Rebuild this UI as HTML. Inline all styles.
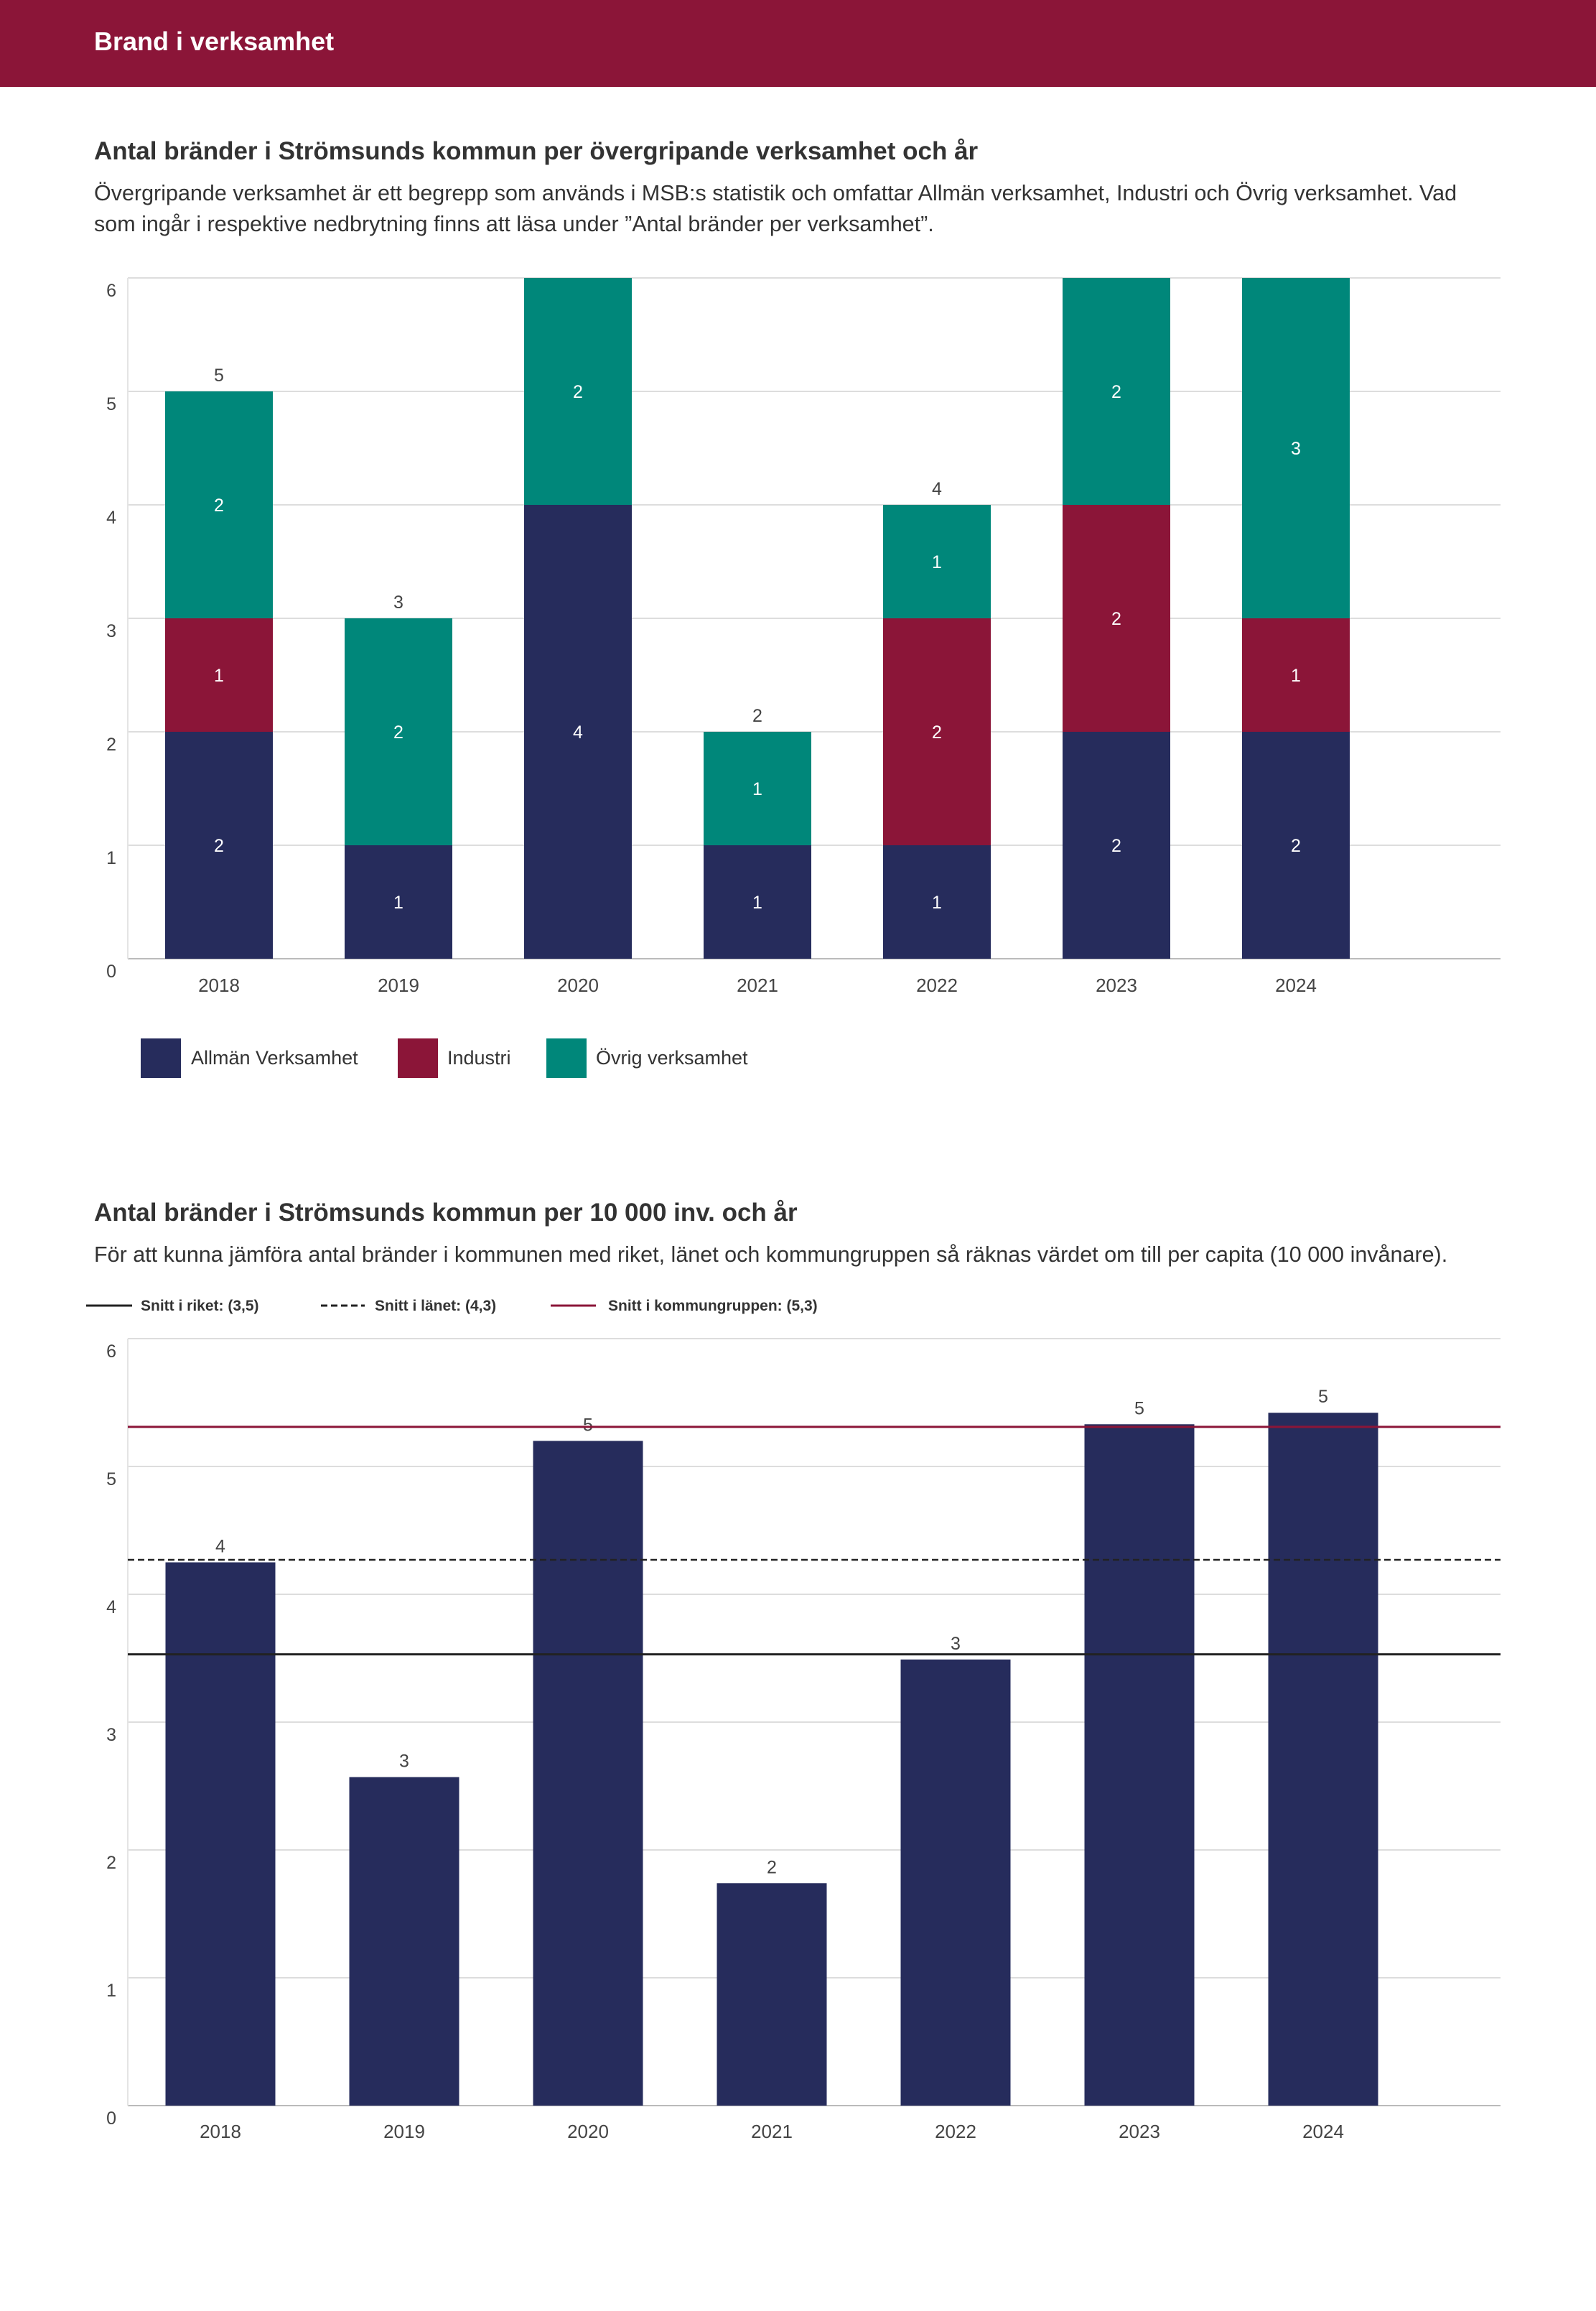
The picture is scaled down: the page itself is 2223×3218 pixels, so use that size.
<!DOCTYPE html>
<html><head><meta charset="utf-8">
<style>
html,body{margin:0;padding:0;background:#fff;}
body{width:2223px;height:3213px;position:relative;overflow:hidden;font-family:"Liberation Sans",sans-serif;}
svg text{font-family:"Liberation Sans",sans-serif;}
</style></head>
<body>
<svg id="page" width="2223" height="3213" viewBox="0 0 2223 3213" xmlns="http://www.w3.org/2000/svg">
<rect x="0" y="0" width="2223" height="121" fill="#8b1538"/>
<text x="131" y="70" font-size="36" font-weight="bold" fill="#fff">Brand i verksamhet</text>

<text x="131" y="222" font-size="35" font-weight="bold" fill="#333">Antal bränder i Strömsunds kommun per övergripande verksamhet och år</text>
<text x="131" y="279" font-size="30.5" fill="#333">Övergripande verksamhet är ett begrepp som används i MSB:s statistik och omfattar Allmän verksamhet, Industri och Övrig verksamhet. Vad</text>
<text x="131" y="322" font-size="30.5" fill="#333">som ingår i respektive nedbrytning finns att läsa under ”Antal bränder per verksamhet”.</text>
<g id="chart1"></g>
<g>
<rect x="196" y="1446" width="56" height="55" fill="#262c5c"/>
<text x="266" y="1482" font-size="27" fill="#333">Allmän Verksamhet</text>
<rect x="554" y="1446" width="56" height="55" fill="#8b1538"/>
<text x="623" y="1482" font-size="27" fill="#333">Industri</text>
<rect x="761" y="1446" width="56" height="55" fill="#00877a"/>
<text x="830" y="1482" font-size="27" fill="#333">Övrig verksamhet</text>
</g>

<text x="131" y="1700" font-size="35" font-weight="bold" fill="#333">Antal bränder i Strömsunds kommun per 10 000 inv. och år</text>
<text x="131" y="1757" font-size="30.5" fill="#333">För att kunna jämföra antal bränder i kommunen med riket, länet och kommungruppen så räknas värdet om till per capita (10 000 invånare).</text>
<g>
<line x1="120" y1="1818" x2="184" y2="1818" stroke="#222" stroke-width="3"/>
<text x="196" y="1825" font-size="21" font-weight="bold" fill="#333">Snitt i riket: (3,5)</text>
<line x1="447" y1="1818" x2="508" y2="1818" stroke="#222" stroke-width="3" stroke-dasharray="9,5"/>
<text x="522" y="1825" font-size="21" font-weight="bold" fill="#333">Snitt i länet: (4,3)</text>
<line x1="767" y1="1818" x2="830" y2="1818" stroke="#8b1538" stroke-width="3"/>
<text x="847" y="1825" font-size="21" font-weight="bold" fill="#333">Snitt i kommungruppen: (5,3)</text>
</g>
<g id="chart2"></g>
</svg>
<script>
const years = ["2018","2019","2020","2021","2022","2023","2024"];
const allman = [2,1,4,1,1,2,2];
const industri = [1,0,0,0,2,2,1];
const ovrig = [2,2,2,1,1,2,3];
const yTicks1 = [0,1,2,3,4,5,6];

const perCapita = [4.25,2.57,5.2,1.74,3.49,5.33,5.42];
const refRiket = [3.53];
const refLanet = [4.27];
const refKommungrupp = [5.31];
const yTicks2 = [0,1,2,3,4,5,6];

const NS="http://www.w3.org/2000/svg";
function mk(parent,tag,attrs,text){const e=document.createElementNS(NS,tag);for(const k in attrs)e.setAttribute(k,attrs[k]);if(text!==undefined)e.textContent=text;parent.appendChild(e);return e;}

// Chart 1
(function(){
const g=document.getElementById('chart1');
const L=178,R=2090,T=387,B=1335,ymax=6;
const y=v=>B-(v/ymax)*(B-T);
const xc=i=>305+i*250;
const bw=150;
yTicks1.forEach(t=>{
  const ln=mk(g,'line',{x1:L,x2:R,y1:y(t),y2:y(t),stroke:t===0?'#bbb':'#ddd','stroke-width':2});
  
  
  const tx=mk(g,'text',{x:162,y:y(t)+26,'font-size':25,fill:'#444','text-anchor':'end'},String(t));
  
  
});
const ax=mk(g,'line',{x1:L,x2:L,y1:T,y2:B,stroke:'#e4e4e4','stroke-width':2});


const series=[[allman,'#262c5c','allman'],[industri,'#8b1538','industri'],[ovrig,'#00877a','ovrig']];
years.forEach((yr,i)=>{
  let base=0;
  series.forEach(([arr,col,nm])=>{
    const v=arr[i];
    if(v>0){
      const r=mk(g,'rect',{x:xc(i)-bw/2,y:y(base+v),width:bw,height:y(base)-y(base+v),fill:col});
      
      
      const t=mk(g,'text',{x:xc(i),y:(y(base)+y(base+v))/2+9,'font-size':25,fill:'#fff','text-anchor':'middle'},String(v));
      
      
    }
    base+=v;
  });
  if(base<ymax){
    const t=mk(g,'text',{x:xc(i),y:y(base)-14,'font-size':25,fill:'#444','text-anchor':'middle'},String(base));
    
    
  }
  const xl=mk(g,'text',{x:xc(i),y:1381,'font-size':26,fill:'#444','text-anchor':'middle'},yr);
  
  
});
})();

// Chart 2
(function(){
const g=document.getElementById('chart2');
const L=178,R=2090,T=1864,B=2932,ymax=6;
const y=v=>B-(v/ymax)*(B-T);
const xc=i=>307+i*256;
const bw=153;
yTicks2.forEach(t=>{
  const ln=mk(g,'line',{x1:L,x2:R,y1:y(t),y2:y(t),stroke:t===0?'#bbb':'#ddd','stroke-width':2});
  
  
  const tx=mk(g,'text',{x:162,y:y(t)+26,'font-size':25,fill:'#444','text-anchor':'end'},String(t));
  
  
});
const ax=mk(g,'line',{x1:L,x2:L,y1:T,y2:B,stroke:'#e4e4e4','stroke-width':2});


years.forEach((yr,i)=>{
  const v=perCapita[i];
  const r=mk(g,'rect',{x:xc(i)-bw/2,y:y(v),width:bw,height:B-y(v),fill:'#262c5c'});
  
  
  const t=mk(g,'text',{x:xc(i),y:y(v)-14,'font-size':25,fill:'#444','text-anchor':'middle'},String(Math.round(v)));
  
  
  const xl=mk(g,'text',{x:xc(i),y:2977,'font-size':26,fill:'#444','text-anchor':'middle'},yr);
  
  
});
const l1=mk(g,'line',{x1:L,x2:R,y1:y(refLanet[0]),y2:y(refLanet[0]),stroke:'#222','stroke-width':2.5,'stroke-dasharray':'9,5'});


const l2=mk(g,'line',{x1:L,x2:R,y1:y(refRiket[0]),y2:y(refRiket[0]),stroke:'#222','stroke-width':3});


const l3=mk(g,'line',{x1:L,x2:R,y1:y(refKommungrupp[0]),y2:y(refKommungrupp[0]),stroke:'#8b1538','stroke-width':3});


})();
</script>
</body></html>
